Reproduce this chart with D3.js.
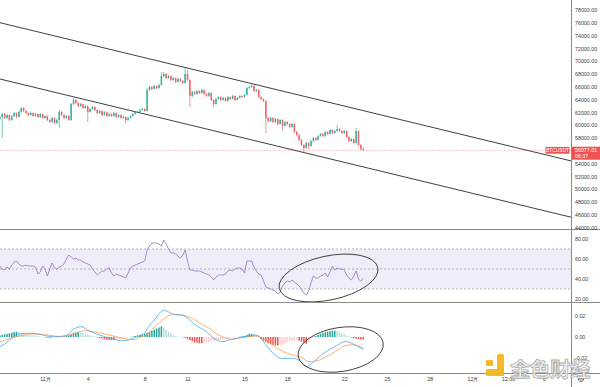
<!DOCTYPE html>
<html><head><meta charset="utf-8">
<script src="https://cdn.jsdelivr.net/npm/d3@7"></script>
<style>html,body{margin:0;padding:0;background:#fff;}svg{display:block;font-family:"Liberation Sans",Arial,sans-serif;}</style>
</head><body><svg id="c" width="600" height="387"></svg>
<script>
// ---------- DATA (prices in thousands USDT, 4h candles) ----------
const startTime = "2021-10-28T20:00:00Z";
const candleHours = 4;
const open = [61.00,61.28,61.75,61.13,61.59,60.81,61.44,61.91,61.28,62.06,
62.69,62.22,61.91,61.59,61.91,61.44,61.75,61.28,61.75,61.13,
61.44,60.81,60.50,61.13,60.34,60.81,62.06,61.59,61.13,61.44,
60.81,63.31,63.94,63.47,63.00,63.31,62.69,63.00,62.06,62.53,
62.84,62.38,61.91,62.22,61.59,62.06,61.44,61.75,61.44,61.91,
61.28,61.59,61.13,61.28,60.81,61.13,61.44,61.75,62.06,62.10,
62.38,62.53,62.22,65.50,65.97,65.66,66.13,65.81,66.28,67.69,
68.00,67.38,67.69,67.06,67.38,66.75,67.22,66.91,66.59,68.00,
67.06,64.56,65.19,64.88,65.34,65.03,65.50,64.88,64.56,65.03,
63.94,63.31,64.09,64.41,63.94,64.25,63.78,64.41,64.09,64.56,
63.94,64.25,64.56,64.41,64.72,65.81,65.97,66.13,65.34,65.50,
64.41,64.09,63.78,61.13,60.66,61.13,60.50,60.97,60.19,60.81,
59.88,60.50,60.19,59.72,60.19,58.94,58.47,57.69,56.91,56.44,
57.22,56.75,57.53,58.00,57.69,58.31,58.63,58.31,58.94,58.63,
59.25,58.78,59.09,59.41,59.09,58.78,59.09,58.16,57.53,57.84,
57.22,59.09,56.91,56.28];
const high = [61.50,61.95,61.90,61.80,61.70,61.60,62.10,62.00,62.30,62.84,
62.80,62.35,62.05,62.10,62.00,61.95,61.85,61.90,61.85,61.60,
61.55,60.95,61.30,61.20,61.00,62.38,62.20,61.70,61.60,61.55,
63.50,64.25,64.05,63.60,63.50,63.40,63.20,63.10,62.70,63.00,
62.95,62.50,62.40,62.30,62.20,62.15,61.90,61.85,62.05,62.00,
61.75,61.70,61.45,61.40,61.30,61.60,61.90,62.20,62.25,62.55,
62.70,62.65,65.81,66.20,66.10,66.30,66.25,66.50,68.31,68.31,
68.10,67.85,67.80,67.55,67.45,67.40,67.35,67.05,68.94,68.60,
67.20,65.40,65.35,65.50,65.45,65.70,65.60,65.00,65.20,65.10,
64.05,64.25,64.60,64.50,64.45,64.35,64.55,64.50,64.75,64.65,
64.40,64.70,64.70,64.90,66.00,66.20,66.44,66.25,65.70,65.60,
64.55,64.20,63.90,61.30,61.30,61.25,61.15,61.05,61.00,60.90,
60.65,60.65,60.30,60.35,60.30,59.10,58.60,57.80,57.05,57.40,
57.35,57.70,58.20,58.15,58.50,58.80,58.75,59.10,59.05,59.45,
59.35,59.30,60.03,59.55,59.20,59.25,59.20,58.30,58.00,57.95,
59.56,59.20,57.05,56.50];
const low = [60.85,58.00,60.95,61.00,60.60,60.70,61.30,61.10,61.20,61.95,
62.05,61.75,61.40,61.45,61.30,61.30,61.10,61.15,60.95,61.00,
60.65,60.30,60.40,60.19,60.20,59.56,61.45,60.95,61.00,60.65,
60.70,63.15,63.30,62.85,62.90,62.55,62.55,60.50,61.95,62.40,
62.20,61.75,61.80,61.45,61.50,61.30,61.30,61.30,61.35,61.15,
61.15,61.00,61.00,60.19,60.70,61.00,61.35,61.65,61.90,62.00,
62.25,62.10,62.15,65.35,65.50,65.55,65.65,65.70,66.20,67.50,
67.20,67.25,66.90,66.95,66.60,66.65,66.75,66.45,66.50,66.90,
62.84,64.40,64.70,64.75,64.85,64.95,64.70,64.40,64.45,63.75,
62.84,63.20,63.95,63.80,63.85,63.65,63.70,63.95,64.00,63.80,
63.85,64.15,64.30,64.30,64.65,65.65,65.85,65.20,65.20,64.25,
63.90,63.60,58.78,60.45,60.50,60.35,60.40,60.00,60.10,59.25,
59.75,60.00,59.55,59.60,58.75,58.30,57.50,56.75,55.81,56.30,
56.20,56.65,57.40,57.55,57.60,58.20,58.15,58.20,58.45,58.55,
58.60,58.65,58.95,58.95,58.60,58.65,58.00,57.35,57.40,57.05,
57.10,56.75,56.10,55.95];
const close = [61.28,61.75,61.13,61.59,60.81,61.44,61.91,61.28,62.06,62.69,
62.22,61.91,61.59,61.91,61.44,61.75,61.28,61.75,61.13,61.44,
60.81,60.50,61.13,60.34,60.81,62.06,61.59,61.13,61.44,60.81,
63.31,63.94,63.47,63.00,63.31,62.69,63.00,62.06,62.53,62.84,
62.38,61.91,62.22,61.59,62.06,61.44,61.75,61.44,61.91,61.28,
61.59,61.13,61.28,60.81,61.13,61.44,61.75,62.06,62.10,62.38,
62.53,62.22,65.50,65.97,65.66,66.13,65.81,66.28,67.69,68.00,
67.38,67.69,67.06,67.38,66.75,67.22,66.91,66.59,68.00,67.06,
64.56,65.19,64.88,65.34,65.03,65.50,64.88,64.56,65.03,63.94,
63.31,64.09,64.41,63.94,64.25,63.78,64.41,64.09,64.56,63.94,
64.25,64.56,64.41,64.72,65.81,65.97,66.13,65.34,65.50,64.41,
64.09,63.78,61.13,60.66,61.13,60.50,60.97,60.19,60.81,59.88,
60.50,60.19,59.72,60.19,58.94,58.47,57.69,56.91,56.44,57.22,
56.75,57.53,58.00,57.69,58.31,58.63,58.31,58.94,58.63,59.25,
58.78,59.09,59.41,59.09,58.78,59.09,58.16,57.53,57.84,57.22,
59.09,56.91,56.28,56.08];
const rsi = [53,50,49,52,50,54,57,58,55,53,
53,54,53,53,53,52,45,47,53,50,
43,50,56,51,50,52,53,55,60,64,
62,60,61,59,59,57,56,55,54,50,
47,44,46,48,48,50,51,46,43,45,
44,43,42,41,46,51,53,54,55,56,
57,58,69,73,76,76,76,75,73,79,
75,70,66,66,65,63,61,64,69,58,
49,49,48,48,48,47,46,45,44,42,
39,42,44,44,44,45,48,49,48,50,
51,51,50,46,58,58,58,52,48,45,
44,38,32,31,30,29,28,25,27,33,
36,38,37,39,37,35,33,30,26,24,
28,36,43,41,41,43,44,46,42,47,
53,49,51,50,50,49,44,41,39,43,
48,40,38,41];
// MACD pane values in units of 0.01
const macd = [-0.92,-0.80,-0.68,-0.50,-0.30,-0.10,0.15,0.22,0.28,0.32,
0.35,0.36,0.36,0.35,0.33,0.31,0.30,0.26,0.20,0.12,
0.08,0.05,0.04,0.03,0.03,0.06,0.08,0.10,0.15,0.30,
0.55,0.75,0.85,0.95,0.98,0.95,0.80,0.67,0.55,0.45,
0.35,0.25,0.19,0.12,0.05,-0.02,-0.08,-0.13,-0.20,-0.27,
-0.32,-0.35,-0.35,-0.33,-0.28,-0.20,-0.13,-0.05,0.05,0.15,
0.25,0.35,0.75,1.10,1.35,1.62,1.90,2.20,2.45,2.57,
2.50,2.40,2.25,2.19,2.15,2.12,2.10,2.08,2.00,1.80,
1.62,1.40,1.20,1.05,0.90,0.80,0.65,0.50,0.30,0.10,
-0.13,-0.25,-0.35,-0.44,-0.44,-0.40,-0.32,-0.25,-0.20,-0.15,
-0.10,-0.05,0.00,0.03,0.08,0.12,0.16,0.19,0.18,0.10,
-0.15,-0.45,-0.75,-1.05,-1.30,-1.55,-1.75,-1.90,-2.03,-2.05,
-2.05,-2.04,-2.03,-2.03,-2.05,-2.10,-2.19,-2.40,-2.65,-2.83,
-2.75,-2.55,-2.40,-2.20,-2.00,-1.80,-1.60,-1.45,-1.30,-1.15,
-1.05,-0.95,-0.80,-0.65,-0.50,-0.44,-0.44,-0.50,-0.60,-0.70,
-0.80,-0.92,-1.05,-1.17];
const signal = [-0.44,-0.38,-0.30,-0.22,-0.15,-0.08,-0.03,0.03,0.08,0.13,
0.18,0.22,0.26,0.30,0.30,0.28,0.26,0.24,0.22,0.20,
0.19,0.16,0.13,0.10,0.07,0.04,0.03,0.05,0.10,0.15,
0.20,0.27,0.35,0.45,0.52,0.58,0.60,0.60,0.57,0.52,
0.48,0.43,0.38,0.35,0.30,0.25,0.20,0.14,0.08,0.02,
-0.03,-0.08,-0.13,-0.18,-0.22,-0.24,-0.25,-0.22,-0.15,-0.05,
0.05,0.10,0.25,0.45,0.70,0.95,1.15,1.30,1.50,1.70,
1.90,2.05,2.10,2.12,2.12,2.11,2.10,2.08,2.05,1.95,
1.85,1.78,1.65,1.50,1.35,1.20,1.05,0.98,0.85,0.70,
0.50,0.35,0.19,0.10,0.00,-0.08,-0.15,-0.22,-0.22,-0.20,
-0.15,-0.10,-0.06,-0.03,0.00,0.04,0.07,0.10,0.10,0.05,
-0.05,-0.20,-0.35,-0.44,-0.60,-0.80,-0.98,-1.12,-1.24,-1.35,
-1.45,-1.55,-1.63,-1.70,-1.78,-1.85,-1.87,-1.95,-2.10,-2.25,
-2.35,-2.35,-2.32,-2.28,-2.25,-2.15,-2.05,-1.90,-1.80,-1.71,
-1.55,-1.40,-1.25,-1.10,-0.95,-0.86,-0.80,-0.76,-0.75,-0.76,
-0.80,-0.90,-1.00,-1.08];
const hist = [0.15,0.2,0.25,0.3,0.35,0.4,0.5,0.5,0.45,0.4,
0.35,0.3,0.25,0.2,0.15,0.12,0.1,0.05,0.02,-0.03,
-0.06,-0.08,-0.05,-0.02,0.02,0.03,0.03,0.05,0.1,0.2,
0.3,0.4,0.45,0.5,0.45,0.4,0.3,0.22,0.15,0.1,
0.05,-0.05,-0.1,-0.15,-0.2,-0.25,-0.28,-0.3,-0.3,-0.28,
-0.25,-0.2,-0.15,-0.1,-0.05,0.02,0.05,0.1,0.15,0.2,
0.25,0.3,0.4,0.5,0.6,0.7,0.8,0.9,1.0,0.9,
0.7,0.5,0.35,0.2,0.1,0.05,0.02,-0.02,-0.1,-0.2,
-0.3,-0.4,-0.5,-0.55,-0.6,-0.6,-0.55,-0.5,-0.45,-0.4,
-0.38,-0.35,-0.3,-0.25,-0.2,-0.15,-0.1,-0.08,-0.05,-0.03,
-0.02,0.03,0.06,0.1,0.2,0.3,0.3,0.25,0.1,0.02,
-0.2,-0.35,-0.5,-0.6,-0.7,-0.75,-0.8,-0.8,-0.75,-0.7,
-0.6,-0.5,-0.4,-0.35,-0.3,-0.25,-0.35,-0.45,-0.55,-0.65,
-0.5,-0.2,0.05,0.1,0.2,0.3,0.4,0.45,0.5,0.55,
0.6,0.6,0.55,0.45,0.35,0.25,0.15,0.08,-0.05,-0.1,
-0.15,-0.2,-0.25,-0.25];
const priceTicks = [44,46,48,50,52,54,56,58,60,62,64,66,68,70,72,74,76,78];
const rsiTicks = [20,40,60,80];
const rsiLevels = [70,50,30];
const macdTicks = [-2,0,2];
const timeTicks = ["2021-11-01T00:00Z","2021-11-04T00:00Z","2021-11-08T00:00Z","2021-11-11T00:00Z","2021-11-15T00:00Z","2021-11-18T00:00Z","2021-11-22T00:00Z","2021-11-25T00:00Z","2021-11-28T00:00Z","2021-12-01T00:00Z","2021-12-03T12:00Z","2021-12-06T00:00Z"];
const timeLabels = ["11月","4","8","11","15","18","22","25","28","12月","12:00","6"];
const symbol = "BTCUSDT";
const lastPriceText = "56077.01";
const countdown = "06:37";
const lastPrice = 56.07701;
const channelUpper = [["2021-10-28T20:00Z",76.02],["2021-12-08T00:00Z",54.37]];
const channelLower = [["2021-10-28T20:00Z",67.22],["2021-12-08T00:00Z",45.58]];
const rsiCircle = {time:"2021-11-20T21:30Z", value:41};
const macdCircle = {time:"2021-11-21T18:00Z", value:-1.19};

// ---------- LAYOUT ----------
const svg = d3.select("#c");
const W = 600, H = 387, axisX = 571;
const mainTop = 0, mainBottom = 229.5, rsiBottom = 302.5, macdBottom = 373.5;
const t0 = Date.parse(startTime);
const times = close.map((_, i) => new Date(t0 + i * candleHours * 3600e3));

const x = d3.scaleUtc().domain([new Date("2021-11-01T00:00Z"), new Date("2021-12-01T00:00Z")]).range([45, 472.5]);
const yP = d3.scaleLinear().domain([44, 78]).range([227.6, 10]);
const yR = d3.scaleLinear().domain([20, 80]).range([299, 239]);
const yM = d3.scaleLinear().domain([-2, 2]).range([358, 316]);

const defs = svg.append("defs");
[["clipMain", mainTop, mainBottom], ["clipRsi", mainBottom, rsiBottom], ["clipMacd", rsiBottom, macdBottom]].forEach(([id, a, b]) => {
  defs.append("clipPath").attr("id", id).append("rect").attr("x", 0).attr("y", a).attr("width", axisX).attr("height", b - a);
});

svg.append("rect").attr("width", W).attr("height", H).attr("fill", "#fff");

// ---------- MAIN PANE ----------
const gMain = svg.append("g").attr("clip-path", "url(#clipMain)");
gMain.append("line").attr("x1", 0).attr("x2", axisX).attr("y1", yP(lastPrice)).attr("y2", yP(lastPrice))
  .attr("stroke", "#ef5350").attr("stroke-opacity", 0.55).attr("stroke-dasharray", "1.5,1.5").attr("stroke-width", 0.8);
const chLine = d3.line().x(d => x(new Date(d[0]))).y(d => yP(d[1]));
[channelUpper, channelLower].forEach(c => gMain.append("path").attr("d", chLine(c)).attr("fill", "none").attr("stroke", "#2a2a2a").attr("stroke-width", 0.9));
const up = "#26a69a", dn = "#ef5350";
const cg = gMain.append("g").attr("opacity", 0.9);
close.forEach((c, i) => {
  const o = open[i], col = c >= o ? up : dn, cx = x(times[i]);
  cg.append("line").attr("x1", cx).attr("x2", cx).attr("y1", yP(high[i])).attr("y2", yP(low[i])).attr("stroke", col).attr("stroke-width", 0.7);
  const yt = yP(Math.max(o, c)), yb = yP(Math.min(o, c));
  cg.append("rect").attr("x", cx - 0.75).attr("width", 1.5).attr("y", yt).attr("height", Math.max(0.6, yb - yt)).attr("fill", col);
});

// ---------- RSI PANE ----------
const gR = svg.append("g").attr("clip-path", "url(#clipRsi)");
gR.append("rect").attr("x", 0).attr("width", axisX).attr("y", yR(70)).attr("height", yR(30) - yR(70)).attr("fill", "#f1edf8");
rsiLevels.forEach(v => gR.append("line").attr("x1", 0).attr("x2", axisX).attr("y1", yR(v)).attr("y2", yR(v))
  .attr("stroke", "#9a9aa6").attr("stroke-width", 0.7).attr("stroke-dasharray", "2,2"));
gR.append("path").attr("d", d3.line().x((d, i) => x(times[i])).y(d => yR(d))(rsi))
  .attr("fill", "none").attr("stroke", "#8a78c0").attr("stroke-width", 0.8);

// ---------- MACD PANE ----------
const gM = svg.append("g").attr("clip-path", "url(#clipMacd)");
hist.forEach((h, i) => {
  const prev = i > 0 ? hist[i - 1] : h;
  let col;
  if (h >= 0) col = h >= prev ? "#26a69a" : "#b2dfdb";
  else col = h <= prev ? "#ef5350" : "#ffcdd2";
  const cx = x(times[i]);
  gM.append("rect").attr("x", cx - 0.75).attr("width", 1.5).attr("y", Math.min(yM(h), yM(0)))
    .attr("height", Math.max(0.4, Math.abs(yM(h) - yM(0)))).attr("fill", col);
});
gM.append("path").attr("d", d3.line().x((d, i) => x(times[i])).y(d => yM(d))(signal))
  .attr("fill", "none").attr("stroke", "#ff9a4a").attr("stroke-width", 0.8);
gM.append("path").attr("d", d3.line().x((d, i) => x(times[i])).y(d => yM(d))(macd))
  .attr("fill", "none").attr("stroke", "#4aa8f0").attr("stroke-width", 0.8);

// ---------- ANNOTATION ELLIPSES ----------
svg.append("ellipse").attr("cx", 0).attr("cy", 0).attr("rx", 50.4).attr("ry", 22)
  .attr("transform", `translate(${x(new Date(rsiCircle.time))},${yR(rsiCircle.value)}) rotate(-12)`)
  .attr("fill", "none").attr("stroke", "#222").attr("stroke-width", 0.8);
svg.append("ellipse").attr("cx", 0).attr("cy", 0).attr("rx", 43).attr("ry", 22)
  .attr("transform", `translate(${x(new Date(macdCircle.time))},${yM(macdCircle.value)}) rotate(-9)`)
  .attr("fill", "none").attr("stroke", "#222").attr("stroke-width", 0.8);

// ---------- SEPARATORS ----------
const sep = "#8a8a8a";
[mainBottom, rsiBottom, macdBottom].forEach(y => svg.append("line").attr("x1", 0).attr("x2", W).attr("y1", y).attr("y2", y).attr("stroke", sep).attr("stroke-width", 1));
svg.append("line").attr("x1", axisX + 0.5).attr("x2", axisX + 0.5).attr("y1", 0).attr("y2", H).attr("stroke", sep).attr("stroke-width", 1);

// ---------- AXES ----------
function styleAxis(g) {
  g.select(".domain").remove();
  g.selectAll("line").remove();
  g.selectAll("text").attr("font-size", 5.3).attr("fill", "#3a3a3a").attr("font-family", "Liberation Sans, Arial, sans-serif");
}
svg.append("g").attr("transform", `translate(${axisX},0)`)
  .call(d3.axisRight(yP).tickValues(priceTicks).tickSize(0).tickPadding(4).tickFormat(d => (d * 1000).toFixed(2))).call(styleAxis);
svg.append("g").attr("transform", `translate(${axisX},0)`)
  .call(d3.axisRight(yR).tickValues(rsiTicks).tickSize(0).tickPadding(4).tickFormat(d => d.toFixed(2))).call(styleAxis);
svg.append("g").attr("transform", `translate(${axisX},0)`)
  .call(d3.axisRight(yM).tickValues(macdTicks).tickSize(0).tickPadding(4).tickFormat(d => (d / 100).toFixed(2))).call(styleAxis);
const tickDates = timeTicks.map(s => new Date(s));
svg.append("g").attr("transform", `translate(0,${macdBottom})`)
  .call(d3.axisBottom(x).tickValues(tickDates).tickSize(0).tickPadding(3.5).tickFormat((d, i) => timeLabels[i])).call(styleAxis);

// ---------- PRICE LABELS ----------
const ly = yP(lastPrice);
svg.append("rect").attr("x", 545.5).attr("y", ly - 3.4).attr("width", 24).attr("height", 6.8).attr("fill", "#ef5350");
svg.append("text").attr("x", 557.5).attr("y", ly + 1.8).attr("text-anchor", "middle").attr("font-size", 4.8).attr("fill", "#fff").text(symbol);
svg.append("rect").attr("x", 572).attr("y", ly - 3.6).attr("width", 28).attr("height", 13).attr("fill", "#ef5350");
svg.append("text").attr("x", 575).attr("y", ly + 1.9).attr("font-size", 5.3).attr("fill", "#fff").text(lastPriceText);
svg.append("text").attr("x", 575).attr("y", ly + 7.6).attr("font-size", 5.3).attr("fill", "#fff").text(countdown);

// gear icon
const gear = svg.append("g").attr("transform", "translate(581,379)");
gear.append("circle").attr("r", 2.3).attr("fill", "none").attr("stroke", "#555").attr("stroke-width", 1.4).attr("stroke-dasharray", "1.1,0.7");
gear.append("circle").attr("r", 1).attr("fill", "#fff").attr("stroke", "#555").attr("stroke-width", 0.5);

// ---------- WATERMARK ----------
const wm = svg.append("g").attr("opacity", 0.92);
wm.append("rect").attr("x", 497).attr("y", 354).attr("width", 7).attr("height", 22).attr("rx", 1.5).attr("fill", "#f6b418");
wm.append("rect").attr("x", 486).attr("y", 369).attr("width", 18).attr("height", 7).attr("rx", 1.5).attr("fill", "#f6b418");
wm.append("rect").attr("x", 486).attr("y", 360).attr("width", 7).attr("height", 6).attr("rx", 1).attr("fill", "#f6b418");
wm.append("text").attr("x", 510).attr("y", 377).attr("font-size", 20.5).attr("font-weight", 700)
  .attr("font-family", "Noto Sans CJK SC, sans-serif").attr("fill", "#eeeeee").attr("stroke", "#a8a8a8").attr("stroke-width", 0.8)
  .attr("letter-spacing", -0.5).text("金色财经");
</script></body></html>
